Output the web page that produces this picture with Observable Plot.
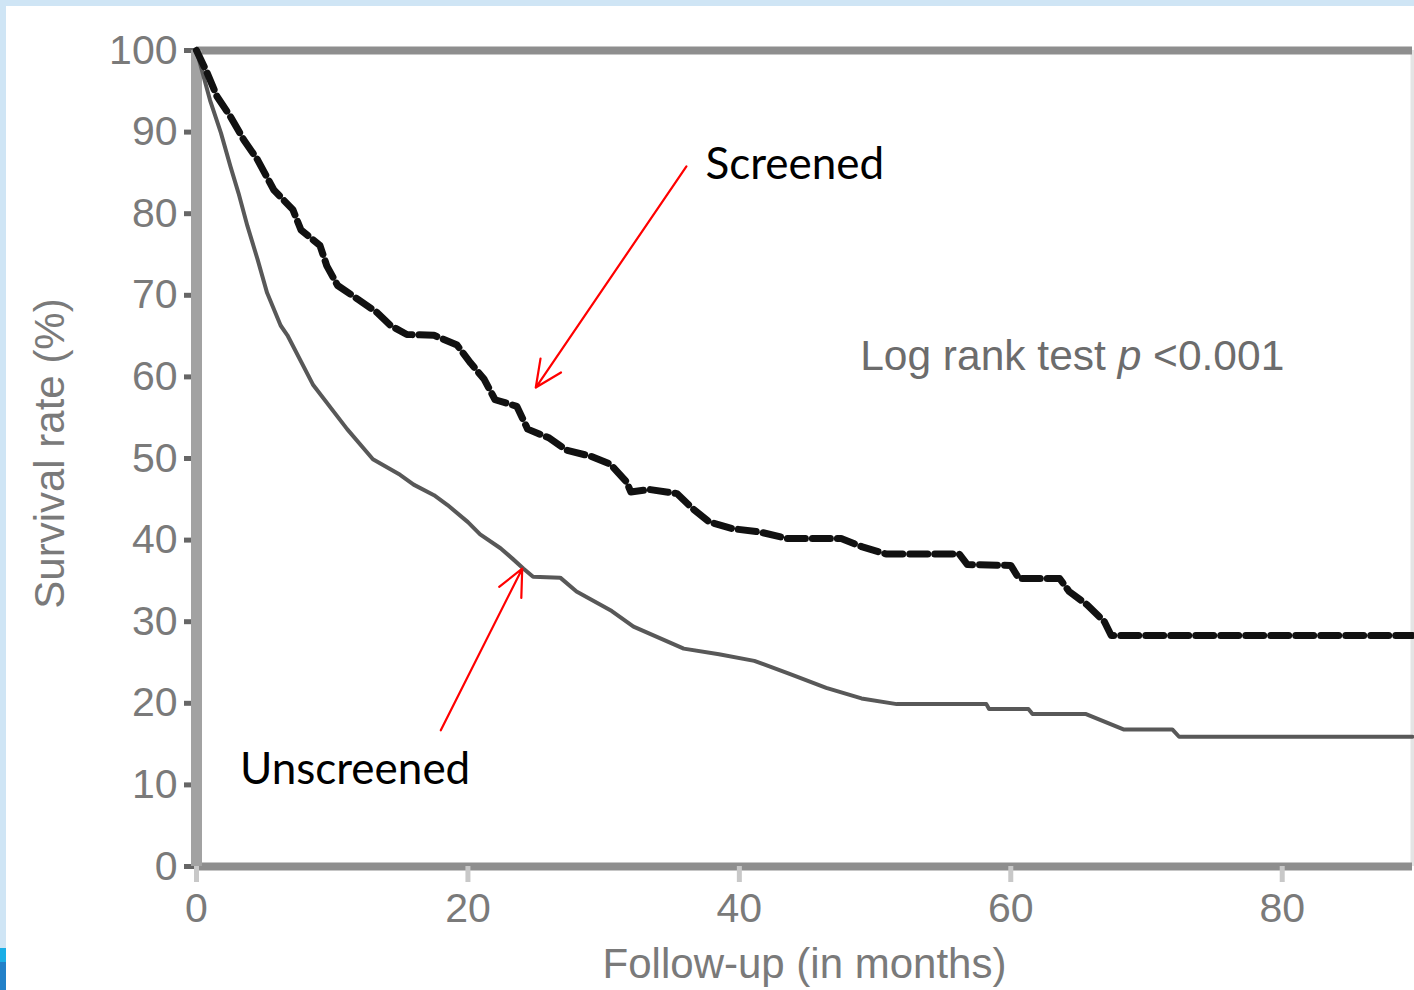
<!DOCTYPE html>
<html>
<head>
<meta charset="utf-8">
<script src="https://cdn.jsdelivr.net/npm/d3@7"></script>
<script src="https://cdn.jsdelivr.net/npm/@observablehq/plot@0.6"></script>
<style>
  html, body { margin: 0; padding: 0; background: #fff; width: 1414px; height: 990px; overflow: hidden; }
  #chart { position: absolute; left: 0; top: 0; }
  .band { position: absolute; background: #cfe5f5; }
</style>
</head>
<body>
<div id="chart"></div>
<div class="band" style="left:0;top:0;width:1414px;height:6px;"></div>
<div class="band" style="left:0;top:0;width:6px;height:990px;"></div>
<div class="band" style="left:0;top:948px;width:6px;height:14px;background:#1aaee6;"></div>
<div class="band" style="left:0;top:962px;width:6px;height:28px;background:#2280c8;"></div>
<script>
// ---- data ----
const screenedMonths = [0,0.8,1.5,2.5,3.5,4.5,5.7,7.1,7.7,9.1,9.6,10.4,11.9,13.3,14.3,15.5,17.5,19.2,20.2,21.2,22.0,23.6,24.4,26.0,27.3,29.0,30.5,31.7,32.0,33.4,35.4,36.6,37.8,39.5,41.5,43.5,47.5,49.0,50.8,56.2,56.8,60.0,60.6,63.6,64.3,65.6,66.9,67.4,89.6];
const screenedSurv   = [100,97.2,94.4,91.9,89.0,86.6,82.9,80.5,78.0,76.1,73.6,71.2,69.5,67.9,66.3,65.2,65.1,63.9,61.7,59.7,57.2,56.4,53.6,52.5,51.0,50.3,49.3,47.1,45.9,46.2,45.7,43.8,42.2,41.4,41.0,40.2,40.2,39.2,38.3,38.3,37.0,36.9,35.3,35.3,33.7,32.1,30.0,28.3,28.3];
const unscreenedMonths = [0,1.0,1.8,2.5,3.1,3.75,4.5,5.2,6.2,6.7,8.6,11.1,13.0,15.0,16.0,17.5,18.5,20.0,20.9,22.4,23.3,24.1,24.8,26.8,28.0,30.6,32.2,35.9,38.5,41.1,43.7,46.4,49.0,51.6,58.2,58.4,61.3,61.6,65.5,68.3,71.9,72.4,89.6];
const unscreenedSurv   = [100,93.9,89.9,85.8,82.5,78.5,74.4,70.3,66.3,65.1,59.0,53.6,49.9,48.0,46.8,45.5,44.3,42.2,40.7,39.0,37.7,36.5,35.5,35.4,33.7,31.3,29.4,26.7,26.0,25.2,23.6,21.9,20.6,19.9,19.9,19.3,19.3,18.7,18.7,16.8,16.8,15.9,15.9];

const yTicks = [0,10,20,30,40,50,60,70,80,90,100];
const xTicks = [0,20,40,60,80];
const xMax = 89.6;

const xLabel = "Follow-up (in months)";
const yLabel = "Survival rate (%)";
const testText = "Log rank test p <0.001";
const testPos = {month: 48.9, surv: 62.5};

// annotation labels & arrows (data coordinates)
const labels = [
  {text: "Screened", month: 37.5, surv: 86.0},
  {text: "Unscreened", month: 3.2, surv: 11.8}
];
const arrows = [
  {x1: 36.1, y1: 85.8, x2: 25.0, y2: 58.7},
  {x1: 18.0, y1: 16.7, x2: 24.0, y2: 36.5}
];

const screened = screenedMonths.map((m, i) => ({month: m, surv: screenedSurv[i]}));
const unscreened = unscreenedMonths.map((m, i) => ({month: m, surv: unscreenedSurv[i]}));

const grey = "#7a7a7a";

const chart = Plot.plot({
  width: 1414,
  height: 990,
  marginLeft: 196,
  marginRight: 2,
  marginTop: 50,
  marginBottom: 124,
  style: {fontFamily: "'Liberation Sans', Arial, sans-serif", fontSize: "40px", background: "transparent", overflow: "visible"},
  x: {domain: [0, xMax]},
  y: {domain: [0, 100]},
  marks: [
    Plot.ruleX([xMax], {stroke: "#e4e4e4", strokeWidth: 4}),
    Plot.ruleY([100], {stroke: "#8e8e8e", strokeWidth: 8}),
    Plot.ruleY([0], {stroke: "#8e8e8e", strokeWidth: 8}),
    Plot.axisY({ticks: yTicks, tickSize: 12, tickPadding: 7, stroke: "#666", strokeWidth: 5, fill: grey, fontSize: 41, label: null}),
    Plot.axisX({ticks: xTicks, tickSize: 16, tickPadding: 10, stroke: "#c8c8c8", strokeWidth: 5, fill: grey, fontSize: 41, label: null}),
    Plot.ruleX([0], {stroke: "#a2a2a2", strokeWidth: 11}),
    Plot.line(unscreened, {x: "month", y: "surv", stroke: "#585858", strokeWidth: 4}),
    Plot.line(screened, {x: "month", y: "surv", stroke: "#111", strokeWidth: 7, strokeDasharray: "18,7"}),
    Plot.text([yLabel], {frameAnchor: "left", textAnchor: "middle", rotate: -90, dx: -146, dy: -5, fill: grey, fontSize: 42}),
    Plot.text([xLabel], {frameAnchor: "bottom", dy: 111, fill: grey, fontSize: 42}),
    Plot.text([testPos], {x: "month", y: "surv", text: () => testText, textAnchor: "start", fill: "#6c6c6c", fontSize: 42.5, className: "logrank"}),
    Plot.arrow(arrows, {x1: "x1", y1: "y1", x2: "x2", y2: "y2", stroke: "red", strokeWidth: 2.2, headLength: 20, headAngle: 50}),
    Plot.text(labels, {x: "month", y: "surv", text: "text", textAnchor: "start", fill: "#000", fontSize: 44, fontFamily: "Lato, 'Open Sans', sans-serif"})
  ]
});
document.getElementById("chart").append(chart);

// italic "p" inside the log-rank text
d3.select(chart).selectAll("g.logrank text").each(function() {
  const t = d3.select(this);
  t.text(null);
  t.append("tspan").text("Log rank test ");
  t.append("tspan").attr("font-style", "italic").text("p");
  t.append("tspan").text(" <0.001");
});
</script>
</body>
</html>
